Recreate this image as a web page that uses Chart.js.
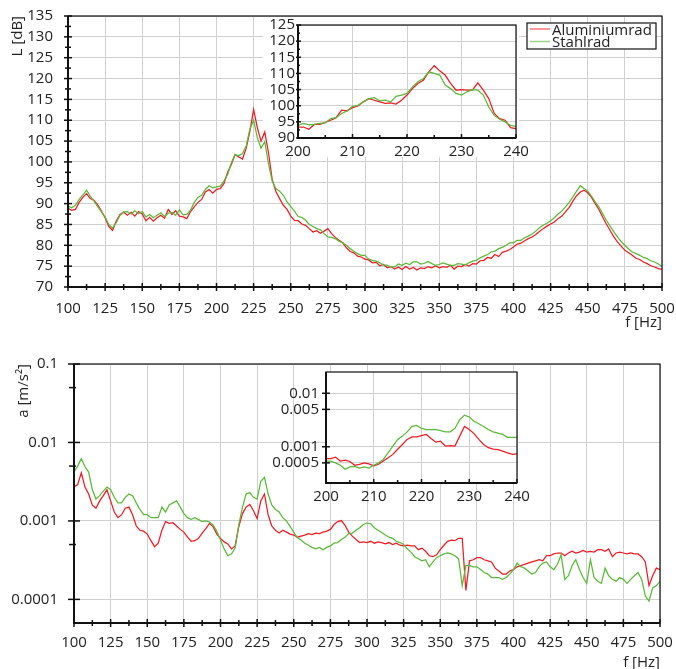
<!DOCTYPE html>
<html><head><meta charset="utf-8">
<script src="https://cdn.jsdelivr.net/npm/chart.js@4/dist/chart.umd.min.js"></script>
<style>
html,body{margin:0;padding:0;background:#fff;width:676px;height:669px;overflow:hidden;position:relative;}
canvas{position:absolute;}
</style></head><body>
<canvas id="cTop" style="left:0px;top:0px" width="676" height="338"></canvas>
<canvas id="cTopIn" style="left:263px;top:15px" width="270" height="150"></canvas>
<canvas id="cBot" style="left:0px;top:338px" width="676" height="334"></canvas>
<canvas id="cBotIn" style="left:268px;top:362px" width="266" height="150"></canvas>
<script>
// ---------- DATA ----------
const seriesNames = ['Aluminiumrad', 'Stahlrad'];
// main frequency grid: 100..500 Hz every 2.5 Hz (161 samples); inset grid: 200..240 Hz every 1 Hz
const fMainStart = 100, fMainStep = 2.5, fMainCount = 161;
const fInStart = 200, fInStep = 1, fInCount = 41;

// Level L [dB]
const L_alu = [
 88.9, 88.4, 88.6, 90.3, 91.5, 92.4, 91.2, 90.8, 89.7, 88.2,
 86.6, 84.5, 83.6, 85.8, 87.4, 87.9, 87.2, 87.9, 87.0, 88.1,
 87.5, 85.9, 86.7, 85.8, 86.6, 87.2, 86.5, 88.6, 87.4, 88.3,
 87.0, 86.8, 86.4, 88.1, 89.2, 90.3, 91.0, 92.8, 93.4, 92.5,
 93.4, 93.6, 94.8, 97.5, 99.4, 101.8, 101.2, 100.7, 103.3, 107.4,
 112.6, 108.2, 105.0, 107.2, 102.2, 95.8, 92.9, 91.2, 89.6, 88.6,
 87.0, 86.0, 85.9, 85.1, 84.8, 84.0, 83.2, 83.5, 82.9, 83.4,
 84.0, 82.8, 81.9, 81.2, 80.6, 79.4, 78.5, 78.2, 77.4, 77.2,
 76.7, 76.5, 75.8, 75.9, 75.1, 75.4, 74.6, 74.9, 74.3, 74.8,
 74.2, 74.9, 74.3, 74.7, 74.1, 74.6, 74.4, 74.9, 74.6, 75.1,
 74.6, 74.9, 74.7, 75.2, 74.3, 75.0, 74.9, 75.4, 75.0, 75.6,
 75.5, 76.3, 76.4, 77.1, 76.9, 77.8, 77.3, 78.3, 78.6, 79.0,
 79.6, 80.3, 80.5, 81.1, 81.6, 82.0, 82.6, 83.3, 84.0, 84.6,
 85.1, 85.6, 86.4, 87.0, 88.0, 89.1, 90.6, 91.9, 92.8, 93.2,
 92.6, 91.5, 90.0, 88.6, 86.8, 85.1, 83.6, 82.1, 80.8, 79.8,
 78.8, 78.2, 77.6, 76.9, 76.6, 76.0, 75.6, 75.1, 74.8, 74.4,
 74.2];
const L_stahl = [
 89.4, 89.0, 89.6, 91.0, 92.1, 93.2, 91.8, 90.6, 89.3, 88.0,
 86.8, 85.0, 84.1, 85.4, 87.2, 88.0, 88.1, 87.5, 88.3, 87.6,
 88.1, 86.8, 87.4, 86.6, 87.2, 87.8, 86.9, 87.7, 87.9, 87.2,
 88.5, 87.3, 87.4, 88.4, 90.3, 91.5, 92.0, 93.4, 94.3, 93.8,
 94.0, 94.2, 95.4, 97.0, 99.8, 101.7, 101.5, 102.0, 103.8, 107.9,
 110.0, 105.8, 103.3, 104.9, 99.6, 95.4, 93.6, 93.0, 92.0, 90.4,
 89.3, 88.2, 86.9, 86.7, 86.0, 85.0, 84.5, 84.0, 83.7, 82.8,
 82.0, 81.9, 81.6, 81.0, 80.6, 80.0, 79.2, 78.6, 78.0, 77.6,
 77.6, 76.7, 76.4, 76.2, 75.8, 75.3, 75.2, 74.8, 74.8, 75.5,
 75.2, 75.7, 75.4, 76.0, 76.0, 75.5, 75.7, 76.1, 75.6, 75.2,
 75.4, 75.8, 75.5, 75.2, 75.2, 75.6, 75.5, 75.3, 75.8, 76.2,
 76.4, 77.0, 77.4, 77.8, 78.4, 78.6, 79.2, 79.5, 80.0, 80.6,
 80.6, 81.2, 81.2, 81.8, 82.2, 82.7, 83.4, 84.2, 84.8, 85.3,
 85.9, 86.6, 87.5, 88.2, 89.2, 90.3, 91.6, 93.0, 94.3, 93.6,
 93.0, 91.8, 90.4, 89.2, 87.6, 86.0, 84.6, 83.3, 82.0, 80.9,
 80.0, 79.1, 78.4, 78.0, 77.6, 77.1, 76.8, 76.3, 76.0, 75.5,
 75.0];
// inset 200..240 Hz
const Lin_alu = [93.4,93.4,92.7,94.2,94.2,94.8,95.5,96.3,98.6,98.4,
 99.4,99.9,101.2,102.2,101.7,101.2,100.7,100.9,100.5,101.7,
 103.3,105.3,106.9,107.9,110.5,112.4,110.8,109.5,106.9,104.8,
 105.0,104.8,104.8,107.1,104.8,102.2,97.6,96.0,95.5,93.2,92.9];
const Lin_stahl = [93.9,94.5,94.1,94.2,94.5,94.7,96.0,96.3,97.6,98.4,
 99.8,100.1,101.2,102.2,102.5,101.5,101.7,101.2,102.9,103.3,
 103.8,105.8,107.4,108.4,110.5,110.0,109.5,106.4,105.3,103.8,
 103.3,104.3,105.0,104.8,103.3,99.6,97.0,95.8,95.0,93.9,93.6];

// Acceleration a [m/s²]
const a_alu = [
 0.0027, 0.0029, 0.0041, 0.0027, 0.0022, 0.0016, 0.00145, 0.0018, 0.0021, 0.0025,
 0.0018, 0.0013, 0.0011, 0.0012, 0.00145, 0.0015, 0.0012, 0.00086, 0.00076, 0.00074,
 0.00068, 0.00056, 0.00047, 0.00052, 0.00076, 0.00098, 0.00093, 0.00095, 0.00086, 0.00078,
 0.00072, 0.00062, 0.00055, 0.00056, 0.0006, 0.0007, 0.0008, 0.00093, 0.00084, 0.00068,
 0.0006, 0.00054, 0.00051, 0.00044, 0.00048, 0.00085, 0.00124, 0.0015, 0.00162, 0.00135,
 0.00107, 0.0018, 0.0022, 0.0012, 0.00086, 0.00076, 0.0007, 0.00076, 0.00072, 0.00068,
 0.00066, 0.00062, 0.00064, 0.00066, 0.00069, 0.00067, 0.0007, 0.00069, 0.00072, 0.00074,
 0.00078, 0.0009, 0.00098, 0.00101, 0.00088, 0.00072, 0.00064, 0.00058, 0.00053, 0.00054,
 0.00053, 0.00055, 0.00052, 0.00054, 0.00053, 0.00051, 0.00053, 0.0005, 0.00052, 0.00049,
 0.00048, 0.00049, 0.00048, 0.00048, 0.00043, 0.00045, 0.00041, 0.00036, 0.00035, 0.00037,
 0.00043, 0.00049, 0.00055, 0.00057, 0.00056, 0.0006, 0.0006, 0.00013, 0.00031, 0.00032,
 0.00034, 0.00034, 0.00032, 0.00031, 0.0003, 0.00025, 0.00023, 0.00021, 0.00021, 0.00023,
 0.00024, 0.00026, 0.00027, 0.00028, 0.00029, 0.0003, 0.00031, 0.00032, 0.00031, 0.00036,
 0.00036, 0.00038, 0.00039, 0.00039, 0.00036, 0.00039, 0.00041, 0.00039, 0.0004, 0.00042,
 0.0004, 0.00041, 0.0004, 0.00043, 0.00043, 0.00041, 0.00044, 0.00035, 0.00039, 0.0004,
 0.00039, 0.00038, 0.00039, 0.00038, 0.00038, 0.00035, 0.0003, 0.00015, 0.0002, 0.00025,
 0.00024];
const a_stahl = [
 0.0042, 0.005, 0.0062, 0.0049, 0.0042, 0.0025, 0.0019, 0.0021, 0.0024, 0.0027,
 0.0025, 0.002, 0.0017, 0.0017, 0.002, 0.0022, 0.0021, 0.0017, 0.0014, 0.0012,
 0.0012, 0.0011, 0.0011, 0.0011, 0.0015, 0.0013, 0.0016, 0.0017, 0.0018, 0.0015,
 0.00124, 0.0011, 0.00105, 0.0011, 0.00104, 0.00098, 0.001, 0.00097, 0.00088, 0.00074,
 0.00057, 0.00044, 0.00036, 0.00038, 0.00045, 0.0009, 0.0015, 0.0022, 0.0023, 0.002,
 0.0019, 0.0032, 0.0036, 0.0022, 0.0016, 0.0014, 0.0013, 0.0011, 0.001, 0.00085,
 0.00072, 0.00061, 0.00057, 0.00052, 0.00049, 0.00046, 0.00044, 0.00046, 0.00043, 0.00046,
 0.00048, 0.00052, 0.00053, 0.00058, 0.00062, 0.00069, 0.0007, 0.00076, 0.00082, 0.0009,
 0.00094, 0.00092, 0.00082, 0.00076, 0.00071, 0.00066, 0.00062, 0.0006, 0.00055, 0.00053,
 0.0005, 0.00044, 0.0004, 0.00035, 0.00033, 0.00031, 0.00032, 0.00026, 0.0003, 0.00034,
 0.00036, 0.00038, 0.00039, 0.00038, 0.00036, 0.00033, 0.00015, 0.00027, 0.00027, 0.00026,
 0.00026, 0.00024, 0.00022, 0.00021, 0.00019, 0.00019, 0.00019, 0.00018, 0.00019, 0.00021,
 0.00024, 0.00029, 0.00026, 0.00025, 0.00023, 0.00021, 0.00022, 0.00026, 0.00029, 0.0003,
 0.00026, 0.00024, 0.00028, 0.00037, 0.00018, 0.0002, 0.00027, 0.00032, 0.00024, 0.00019,
 0.00016, 0.00032, 0.00019, 0.00017, 0.00016, 0.00025, 0.0002, 0.00018, 0.00017, 0.00019,
 0.00018, 0.00016, 0.00018, 0.0002, 0.00022, 0.00018, 0.00011, 0.000095, 0.00014, 0.00015,
 0.00017];
const ain_alu = [0.0006,0.0006,0.00064,0.00054,0.00056,0.00053,0.00045,0.00047,0.0005,0.00048,
 0.00044,0.00047,0.00054,0.00062,0.00072,0.0009,0.0011,0.00137,0.00153,0.00153,
 0.00162,0.0017,0.00143,0.00122,0.00127,0.00103,0.00105,0.00103,0.00158,0.0024,
 0.0021,0.00176,0.00137,0.0011,0.00096,0.0009,0.00088,0.00083,0.00077,0.00072,0.00074];
const ain_stahl = [0.00054,0.00054,0.0005,0.00045,0.00038,0.00042,0.00043,0.0004,0.00042,0.0004,
 0.00045,0.0005,0.00058,0.00077,0.00103,0.00137,0.00158,0.0019,0.0024,0.0025,
 0.0022,0.0021,0.0021,0.0021,0.002,0.0019,0.0019,0.0022,0.0032,0.0039,
 0.0036,0.003,0.0027,0.0024,0.0021,0.0019,0.0018,0.0017,0.0015,0.0015,0.0015];

// tick values
const xTicksMain = [100,125,150,175,200,225,250,275,300,325,350,375,400,425,450,475,500];
const xTicksInset = [200,210,220,230,240];
const yTicksA = [0.0001,0.001,0.01,0.1];
const yTicksAin = [0.0005,0.001,0.005,0.01];

// ---------- RENDER ----------
const RED = '#ee1c24', GREEN = '#5cb83a';
const FONT = "'Open Sans', sans-serif";
Chart.defaults.font.family = FONT;
Chart.defaults.font.size = 15;
Chart.defaults.color = '#222';

function grid(start, step, n){ const r=[]; for(let i=0;i<n;i++) r.push(start+i*step); return r; }
const fMain = grid(fMainStart, fMainStep, fMainCount);
const fIn = grid(fInStart, fInStep, fInCount);
const pts = (xs, ys) => ys.map((y,i)=>({x:xs[i], y:y}));

const framePlugin = {
  id:'frame',
  beforeDraw(chart, args, o){
    if (o.fillArea){ const a=chart.chartArea, c=chart.ctx; c.save(); c.fillStyle='#fff'; c.fillRect(a.left,a.top,a.width,a.height); c.restore(); }
  },
  beforeDatasetsDraw(chart, args, o){
    if (o.white){ const c=chart.ctx; c.save(); c.fillStyle='#fff'; const r=o.white; c.fillRect(r[0],r[1],r[2],r[3]); c.restore(); }
  },
  afterDraw(chart, args, o){
    const c=chart.ctx, a=chart.chartArea, xs=chart.scales.x, ys=chart.scales.y;
    c.save(); c.strokeStyle='#111'; c.lineCap='butt';
    c.lineWidth=o.tickW||1.5;
    const line=(x1,y1,x2,y2)=>{c.beginPath();c.moveTo(x1,y1);c.lineTo(x2,y2);c.stroke();};
    (o.xMajor||[]).forEach(v=>{const p=xs.getPixelForValue(v); line(p,a.bottom-o.xMaj[0],p,a.bottom+o.xMaj[1]);});
    (o.xMinor||[]).forEach(v=>{const p=xs.getPixelForValue(v); line(p,a.bottom-o.xMin[0],p,a.bottom+o.xMin[1]);});
    (o.yMajor||[]).forEach(v=>{const p=ys.getPixelForValue(v); line(a.left-o.yMaj[0],p,a.left+o.yMaj[1],p);});
    (o.yMinor||[]).forEach(v=>{const p=ys.getPixelForValue(v); line(a.left-o.yMin[0],p,a.left+o.yMin[1],p);});
    c.lineWidth=o.thin||1.2; c.strokeRect(a.left,a.top,a.width,a.height);
    c.lineWidth=o.thick||2;
    line(a.left,a.top,a.left,a.bottom+1); line(a.left-1,a.bottom,a.right,a.bottom);
    if (o.legend){
      const L=o.legend; c.fillStyle='#fff'; c.fillRect(L.x,L.y,L.w,L.h);
      c.lineWidth=1.2; c.strokeStyle='#111'; c.strokeRect(L.x,L.y,L.w,L.h);
      c.font="15px "+FONT; c.textBaseline='alphabetic'; c.textAlign='left';
      L.items.forEach((it,i)=>{
        c.strokeStyle=it.color; c.globalAlpha=0.6; c.lineWidth=1.5;
        line(L.lx0,L.rows[i],L.lx1,L.rows[i]); c.globalAlpha=1;
        c.fillStyle='#222'; c.fillText(it.label,L.tx,L.base[i]);
      });
    }
    c.restore();
  }
};

function ds(label, data, color, order){
  return {label, data, borderColor:color, backgroundColor:color, borderWidth:1.25, pointRadius:0, tension:0, fill:false, order};
}
function fixTicks(vals){ return function(s){ s.ticks = vals.map(v=>({value:v})); }; }
function fitH(h){ return function(s){ s.height=h; s.paddingLeft=0; s.paddingRight=0; }; }
function fitW(w){ return function(s){ s.width=w; s.paddingTop=0; s.paddingBottom=0; }; }

const gridCol = '#d0d0d0';
const base = {responsive:false, animation:false, devicePixelRatio:1, events:[],
  plugins:{legend:{display:false}, tooltip:{enabled:false}}};

function range(a,b,s){const r=[];for(let v=a;v<=b+1e-9;v+=s)r.push(+v.toFixed(6));return r;}

// ---- top main
new Chart(document.getElementById('cTop'), {
  type:'line',
  data:{datasets:[ds(seriesNames[0], pts(fMain,L_alu), RED, 1), ds(seriesNames[1], pts(fMain,L_stahl), GREEN, 0)]},
  options:Object.assign({}, base, {
    layout:{padding:{left:0, top:16, right:14, bottom:0}},
    scales:{
      x:{type:'linear', min:100, max:500, afterFit:fitH(51), afterBuildTicks:fixTicks(xTicksMain),
         grid:{color:gridCol, lineWidth:1, drawTicks:false}, border:{display:false},
         ticks:{padding:13, maxRotation:0, autoSkip:false},
         title:{display:true, text:'f [Hz]', align:'end', padding:{top:0,bottom:6}}},
      y:{type:'linear', min:70, max:135, afterFit:fitW(68),
         grid:{color:gridCol, lineWidth:1, drawTicks:false}, border:{display:false},
         ticks:{stepSize:5, padding:15, autoSkip:false},
         title:{display:true, text:'L [dB]', align:'end', padding:{top:9,bottom:0}}}
    },
    plugins:Object.assign({}, base.plugins, {frame:{
      white:[263,17,256,140],
      xMajor:xTicksMain, xMinor:range(112.5,487.5,25), xMaj:[4,4], xMin:[3,3],
      yMajor:range(70,135,5), yMinor:range(72.5,132.5,5), yMaj:[4,4], yMin:[3,3],
      legend:{x:527,y:23,w:129,h:26,lx0:530,lx1:550,tx:552,rows:[29,41.5],base:[34.5,46.5],
        items:[{label:seriesNames[0],color:RED},{label:seriesNames[1],color:GREEN}]}
    }})
  }),
  plugins:[framePlugin]
});

// ---- top inset
new Chart(document.getElementById('cTopIn'), {
  type:'line',
  data:{datasets:[ds(seriesNames[0], pts(fIn,Lin_alu), RED, 1), ds(seriesNames[1], pts(fIn,Lin_stahl), GREEN, 0)]},
  options:Object.assign({}, base, {
    layout:{padding:{left:0, top:10, right:17, bottom:0}},
    scales:{
      x:{type:'linear', min:200, max:240, afterFit:fitH(27), afterBuildTicks:fixTicks(xTicksInset),
         grid:{color:gridCol, lineWidth:1, drawTicks:false}, border:{display:false},
         ticks:{padding:5, maxRotation:0, autoSkip:false}},
      y:{type:'linear', min:90, max:125, afterFit:fitW(35),
         grid:{color:gridCol, lineWidth:1, drawTicks:false}, border:{display:false},
         ticks:{stepSize:5, padding:3, autoSkip:false}}
    },
    plugins:Object.assign({}, base.plugins, {frame:{
      fillArea:true,
      xMajor:xTicksInset, xMinor:range(205,235,10), xMaj:[4,0], xMin:[3,0],
      yMajor:range(90,125,5), yMinor:range(92.5,122.5,5), yMaj:[2,3], yMin:[1,2]
    }})
  }),
  plugins:[framePlugin]
});

// ---- bottom main
new Chart(document.getElementById('cBot'), {
  type:'line',
  data:{datasets:[ds(seriesNames[0], pts(fMain,a_alu), RED, 1), ds(seriesNames[1], pts(fMain,a_stahl), GREEN, 0)]},
  options:Object.assign({}, base, {
    layout:{padding:{left:0, top:26, right:16, bottom:0}},
    scales:{
      x:{type:'linear', min:100, max:500, afterFit:fitH(49), afterBuildTicks:fixTicks(xTicksMain),
         grid:{color:gridCol, lineWidth:1, drawTicks:false}, border:{display:false},
         ticks:{padding:11, maxRotation:0, autoSkip:false},
         title:{display:true, text:'f [Hz]', align:'end', padding:{top:0,bottom:0}}},
      y:{type:'logarithmic', min:0.00005, max:0.1, afterFit:fitW(74), afterBuildTicks:fixTicks(yTicksA),
         grid:{color:gridCol, lineWidth:1, drawTicks:false}, border:{display:false},
         ticks:{padding:16, autoSkip:false, callback:v=>String(v)},
         title:{display:true, text:'a [m/s²]', align:'end', padding:{top:15,bottom:0}}}
    },
    plugins:Object.assign({}, base.plugins, {frame:{
      white:[268,371,251,136],
      xMajor:xTicksMain, xMinor:range(112.5,487.5,25), xMaj:[4,4], xMin:[3,3],
      yMajor:yTicksA, yMinor:[0.0005,0.005,0.05], yMaj:[6,6], yMin:[5,2],
      legend:{x:524,y:370,w:131,h:25,lx0:527,lx1:547,tx:549,rows:[375,388],base:[381,394],
        items:[{label:seriesNames[0],color:RED},{label:seriesNames[1],color:GREEN}]}
    }})
  }),
  plugins:[framePlugin]
});

// ---- bottom inset
new Chart(document.getElementById('cBotIn'), {
  type:'line',
  data:{datasets:[ds(seriesNames[0], pts(fIn,ain_alu), RED, 1), ds(seriesNames[1], pts(fIn,ain_stahl), GREEN, 0)]},
  options:Object.assign({}, base, {
    layout:{padding:{left:0, top:10, right:17, bottom:0}},
    scales:{
      x:{type:'linear', min:200, max:240, afterFit:fitH(29), afterBuildTicks:fixTicks(xTicksInset),
         grid:{color:gridCol, lineWidth:1, drawTicks:false}, border:{display:false},
         ticks:{padding:5, maxRotation:0, autoSkip:false}},
      y:{type:'logarithmic', min:0.00021, max:0.025, afterFit:fitW(58), afterBuildTicks:fixTicks(yTicksAin),
         grid:{color:gridCol, lineWidth:1, drawTicks:false}, border:{display:false},
         ticks:{padding:7, autoSkip:false, callback:v=>String(v)}}
    },
    plugins:Object.assign({}, base.plugins, {frame:{
      fillArea:true,
      xMajor:xTicksInset, xMinor:range(205,235,10), xMaj:[4,0], xMin:[3,0],
      yMajor:yTicksAin, yMinor:[], yMaj:[4,4], yMin:[0,0]
    }})
  }),
  plugins:[framePlugin]
});
</script>
</body></html>
